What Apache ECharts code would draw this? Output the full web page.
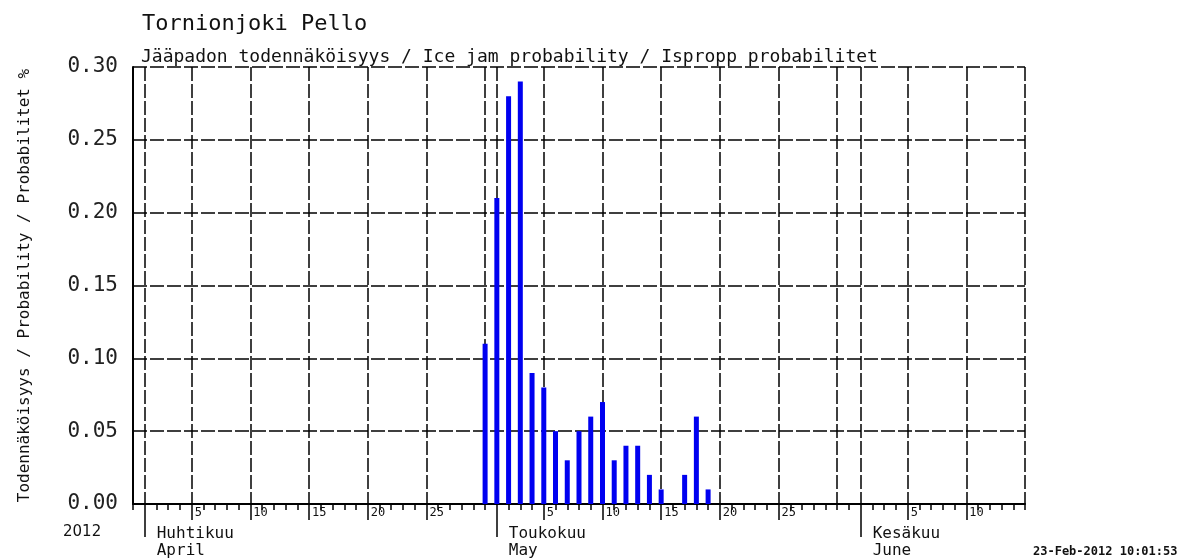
<!DOCTYPE html>
<html><head><meta charset="utf-8">
<script src="https://cdn.jsdelivr.net/npm/echarts@6/dist/echarts.min.js"></script>
<style>html,body{margin:0;padding:0;background:#fff}#c{width:1195px;height:559px}</style>
</head><body><div id="c"></div>
<script>
const titleText = 'Tornionjoki Pello';
const subtitleText = 'Jääpadon todennäköisyys / Ice jam probability / Ispropp probabilitet';
const yAxisName = 'Todennäköisyys / Probability / Probabilitet %';
const yearLabel = '2012';
const stampText = '23-Feb-2012 10:01:53';
const axisStart = '2012-03-31';
const axisEnd = '2012-06-15';
const monthNames = { '04': ['Huhtikuu', 'April'], '05': ['Toukokuu', 'May'], '06': ['Kesäkuu', 'June'] };
const dayLabelDays = [5, 10, 15, 20, 25];
const yTicks = [0, 0.05, 0.10, 0.15, 0.20, 0.25, 0.30];
const probDates = ['2012-04-30','2012-05-01','2012-05-02','2012-05-03','2012-05-04','2012-05-05','2012-05-06','2012-05-07','2012-05-08','2012-05-09','2012-05-10','2012-05-11','2012-05-12','2012-05-13','2012-05-14','2012-05-15','2012-05-17','2012-05-18','2012-05-19'];
const probValues = [0.11,0.21,0.28,0.29,0.09,0.08,0.05,0.03,0.05,0.06,0.07,0.03,0.04,0.04,0.02,0.01,0.02,0.06,0.01];

const categories = [];
for (let t = Date.parse(axisStart + 'T00:00:00Z'); t <= Date.parse(axisEnd + 'T00:00:00Z'); t += 86400000) {
  categories.push(new Date(t).toISOString().slice(0, 10));
}
const lastIdx = categories.length - 1;
const dayOf = s => +s.slice(8, 10);
const isDayLabel = (i, v) => i < lastIdx && dayLabelDays.includes(dayOf(v));
const barData = categories.map(c => { const i = probDates.indexOf(c); return i >= 0 ? probValues[i] : '-'; });

const MONO = 'DejaVu Sans Mono';
const INK = '#111';
const dash = { type: [14, 3], color: '#000', width: 1.5 };

const chart = echarts.init(document.getElementById('c'), null, { renderer: 'canvas' });
chart.setOption({
  animation: false,
  backgroundColor: '#fff',
  title: [
    { text: titleText, left: 137, top: 8, textStyle: { fontFamily: MONO, fontSize: 22, fontWeight: 'normal', color: INK } },
    { text: subtitleText, left: 136, top: 43, textStyle: { fontFamily: MONO, fontSize: 18, fontWeight: 'normal', color: INK } }
  ],
  graphic: [
    { type: 'text', left: 63, top: 525, style: { text: yearLabel, font: '15px "DejaVu Sans"', fill: INK } },
    { type: 'text', left: 1033, top: 546, style: { text: stampText, font: 'bold 12px "DejaVu Sans Mono"', fill: INK } }
  ],
  grid: { left: 133, right: 170, top: 67, bottom: 55, containLabel: false, outerBoundsMode: 'none' },
  xAxis: [
    {
      type: 'category', data: categories, boundaryGap: false, position: 'bottom',
      axisLine: { show: true, onZero: false, lineStyle: { color: '#000', width: 2 } },
      axisTick: { show: true, interval: 0, length: 6, lineStyle: { color: '#000', width: 1.5 } },
      axisLabel: { show: false },
      splitLine: { show: true, interval: (i, v) => { const d = dayOf(v); return d % 5 === 0 || d === 1; }, lineStyle: dash }
    },
    {
      type: 'category', data: categories, boundaryGap: false, position: 'bottom',
      axisLine: { show: false, onZero: false },
      axisTick: { show: true, interval: isDayLabel, length: 16, lineStyle: { color: '#000', width: 1.5 } },
      axisLabel: { show: true, interval: isDayLabel, formatter: v => String(dayOf(v)),
        align: 'left', padding: [0, 0, 0, 3], margin: 3, fontFamily: MONO, fontSize: 12, color: INK, hideOverlap: false },
      splitLine: { show: false }
    },
    {
      type: 'category', data: categories, boundaryGap: false, position: 'bottom',
      axisLine: { show: false, onZero: false },
      axisTick: { show: true, interval: (i, v) => dayOf(v) === 1, length: 33, lineStyle: { color: '#000', width: 1.5 } },
      axisLabel: { show: true, interval: (i, v) => dayOf(v) === 1, formatter: v => monthNames[v.slice(5, 7)].join('\n'),
        align: 'left', verticalAlign: 'top', padding: [0, 0, 0, 12], margin: 21, lineHeight: 17, fontFamily: MONO, fontSize: 16, color: INK, hideOverlap: false },
      splitLine: { show: false }
    }
  ],
  yAxis: {
    type: 'value', min: yTicks[0], max: yTicks[yTicks.length - 1], interval: 0.05,
    name: yAxisName, nameLocation: 'middle', nameRotate: 90, nameGap: 100,
    nameTextStyle: { fontFamily: MONO, fontSize: 16, color: INK },
    axisLine: { show: true, lineStyle: { color: '#000', width: 2 } },
    axisTick: { show: false },
    axisLabel: { formatter: v => v.toFixed(2), fontFamily: MONO, fontSize: 21, color: '#222', margin: 15 },
    splitLine: { show: true, lineStyle: dash }
  },
  series: [{
    type: 'bar', xAxisIndex: 0, data: barData, barWidth: 5,
    itemStyle: { color: '#0000f0' }
  }]
});
</script></body></html>
